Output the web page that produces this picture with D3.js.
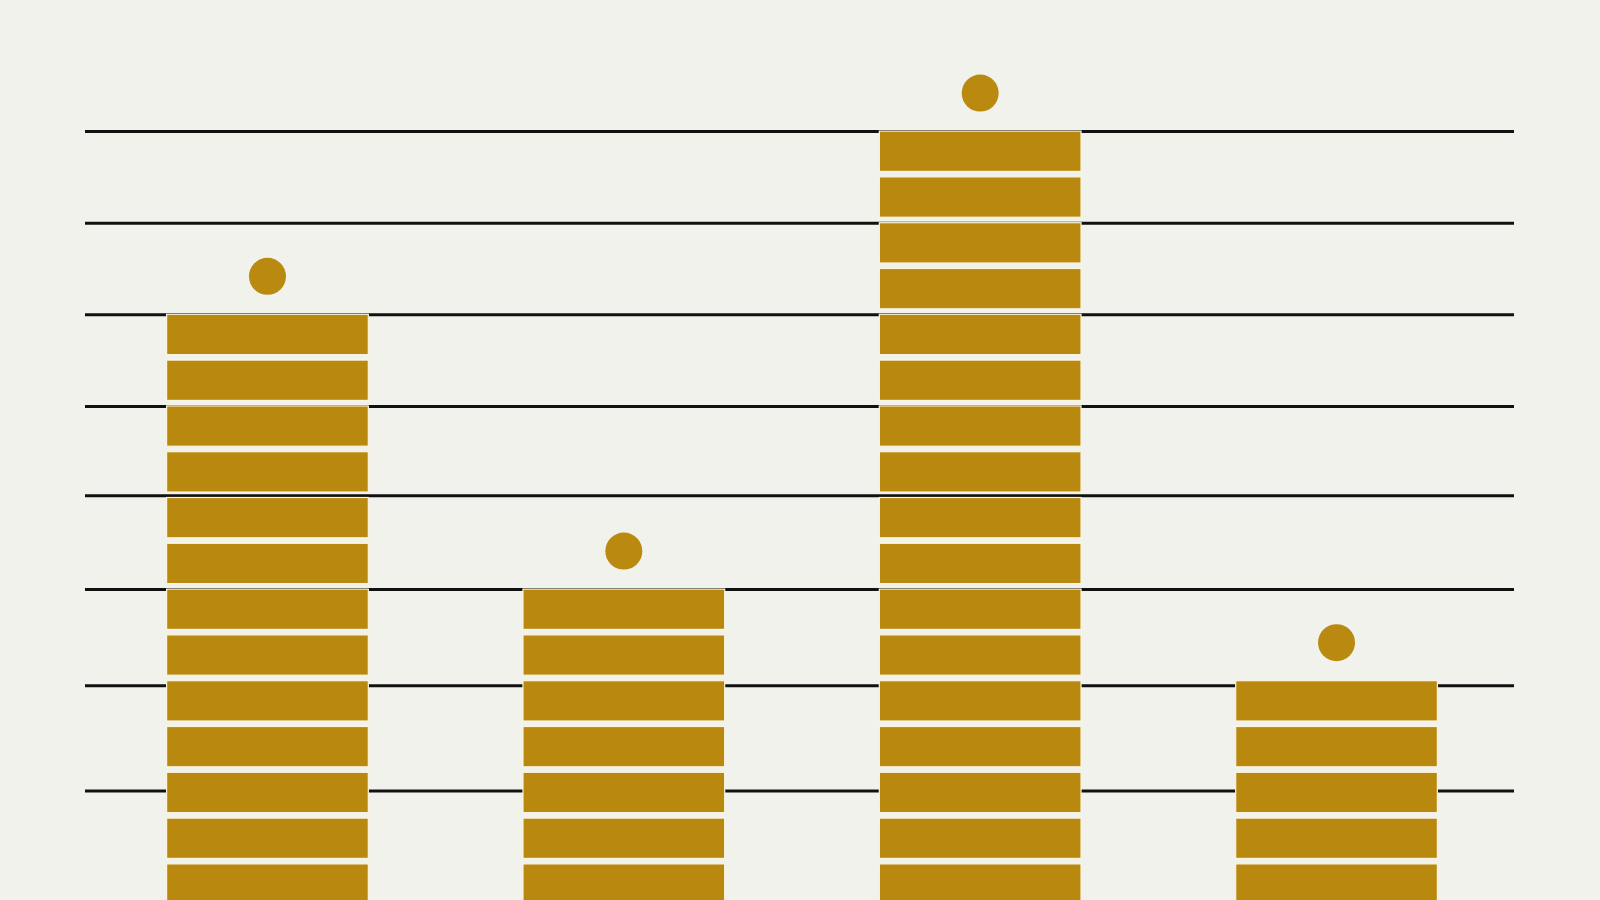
<!DOCTYPE html>
<html>
<head>
<meta charset="utf-8">
<script src="https://cdn.jsdelivr.net/npm/d3@7"></script>
<style>
  html, body { margin: 0; padding: 0; background: #f2f2ed; }
  svg { display: block; }
</style>
</head>
<body>
<svg class="stack-chart"></svg>
<script>
// categories (no labels shown in the picture)
const categories = ["A", "B", "C", "D"];
// number of stacked blocks per bar
const blockCounts = [13, 7, 17, 5];
// horizontal rules, in block units
const gridValues = [2.6, 4.9, 7, 9.05, 11, 13, 15, 17];

var width = 1600, height = 900;
var left = 85, right = 1514;
var barColor = "#b8880f";

var svg = d3.select(".stack-chart")
    .attr("width", width)
    .attr("height", height);

svg.append("rect")
    .attr("width", width)
    .attr("height", height)
    .attr("fill", "#f2f2ed");

var x = d3.scaleBand()
    .domain(categories)
    .range([left + 2.5, right + 2.5])
    .paddingInner(0.434)
    .paddingOuter(0.222);

// one block = 45.8px, baseline sits just under the window
var y = d3.scaleLinear()
    .domain([0, 17])
    .range([909.7, 131.1]);

var gap = 5.5;

// grid rules
var grid = svg.append("g")
    .attr("transform", "translate(" + left + ",0)")
    .call(d3.axisLeft(y)
        .tickValues(gridValues)
        .tickSize(-(right - left))
        .tickFormat(""));
grid.select(".domain").remove();
grid.selectAll(".tick line")
    .attr("stroke", "#111")
    .attr("stroke-width", 3);

var data = categories.map((c, i) => ({ cat: c, n: blockCounts[i] }));

var bars = svg.selectAll(".bar")
    .data(data)
    .enter().append("g")
    .attr("class", "bar");

bars.selectAll("rect")
    .data(d => d3.range(d.n).map(k => ({ cat: d.cat, k: k })))
    .enter().append("rect")
    .attr("x", d => x(d.cat))
    .attr("y", d => y(d.k + 1))
    .attr("width", x.bandwidth())
    .attr("height", d => y(d.k) - y(d.k + 1) - gap)
    .attr("fill", barColor)
    .attr("stroke", "#fbf4de")
    .attr("stroke-width", 1.2);

// marker dot above each stack
svg.selectAll(".dot")
    .data(data)
    .enter().append("circle")
    .attr("class", "dot")
    .attr("cx", d => x(d.cat) + x.bandwidth() / 2)
    .attr("cy", d => y(d.n) - 38)
    .attr("r", 18.5)
    .attr("fill", "#ba8a10");
</script>
</body>
</html>
